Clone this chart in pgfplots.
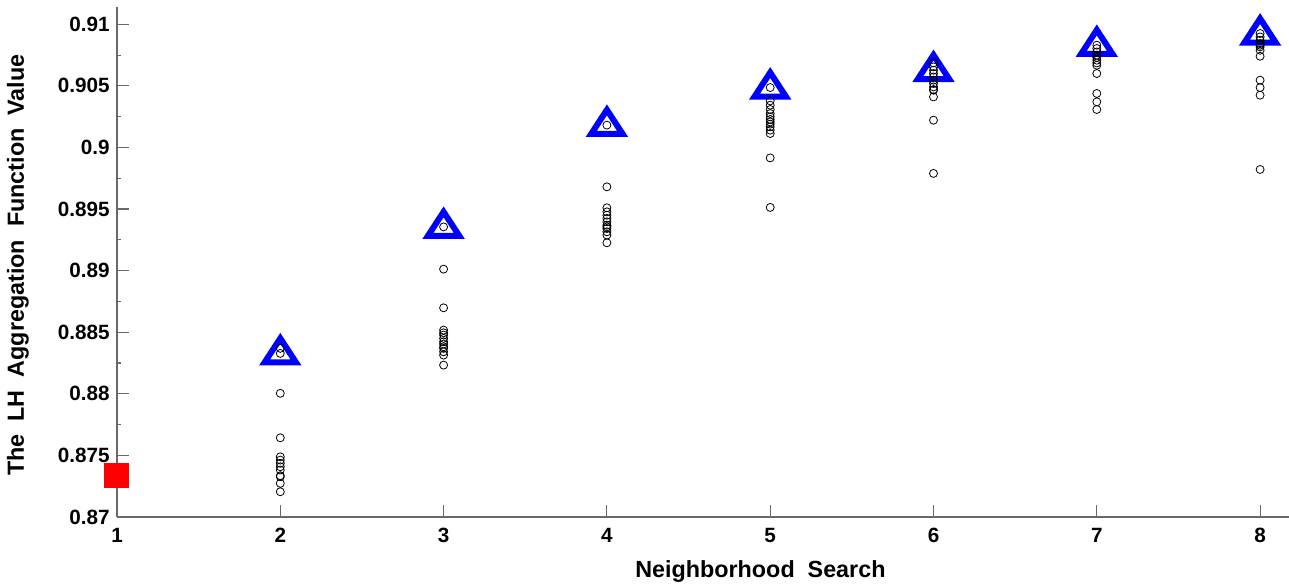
\documentclass[border=0pt]{standalone}
\usepackage{fontspec}
\setmainfont{Liberation Sans}
\usepackage{pgfplots}
\usepackage{pgfplotstable}
\pgfplotsset{compat=1.18}
\definecolor{axgray}{RGB}{105,105,105}

\pgfplotstableread{
x y
2 0.88369
2 0.88328
2 0.88004
2 0.87643
2 0.87489
2 0.87462
2 0.87436
2 0.87408
2 0.87381
2 0.87335
2 0.87327
2 0.87273
2 0.87205
3 0.89355
3 0.89012
3 0.88698
3 0.88517
3 0.88495
3 0.88477
3 0.88450
3 0.88422
3 0.88404
3 0.88382
3 0.88369
3 0.88341
3 0.88314
3 0.88233
4 0.90181
4 0.89680
4 0.89510
4 0.89477
4 0.89450
4 0.89424
4 0.89396
4 0.89369
4 0.89355
4 0.89342
4 0.89315
4 0.89288
4 0.89226
5 0.90486
5 0.90378
5 0.90343
5 0.90308
5 0.90275
5 0.90248
5 0.90227
5 0.90207
5 0.90189
5 0.90167
5 0.90140
5 0.90113
5 0.89915
5 0.89513
6 0.90686
6 0.90654
6 0.90627
6 0.90600
6 0.90572
6 0.90546
6 0.90519
6 0.90491
6 0.90470
6 0.90464
6 0.90410
6 0.90221
6 0.89789
7 0.90830
7 0.90803
7 0.90775
7 0.90748
7 0.90730
7 0.90708
7 0.90686
7 0.90667
7 0.90600
7 0.90438
7 0.90370
7 0.90308
8 0.90925
8 0.90897
8 0.90870
8 0.90843
8 0.90830
8 0.90816
8 0.90789
8 0.90740
8 0.90546
8 0.90486
8 0.90424
8 0.89821
}\circles

\pgfplotstableread{
x y
2 0.88320
3 0.89347
4 0.90175
5 0.90478
6 0.90620
7 0.90824
8 0.90916
}\best

\pgfplotstableread{
x y
1 0.87333
}\start

\begin{document}
\begin{tikzpicture}
\begin{axis}[
  scale only axis,
  width=879pt, height=382.5pt,
  xmin=1, xmax=8.177, ymin=0.87, ymax=0.9114,
  axis x line*=bottom, axis y line*=left,
  xtick={1,2,3,4,5,6,7,8},
  ytick={0.87,0.875,0.88,0.885,0.89,0.895,0.9,0.905,0.91},
  yticklabels={0.87,0.875,0.88,0.885,0.89,0.895,0.9,0.905,0.91},
  minor y tick num=1,
  tick align=inside,
  major tick length=9pt, minor tick length=3pt,
  axis line style={axgray, line width=1pt},
  every tick/.style={axgray, line width=0.8pt},
  tick label style={font=\fontsize{15.5}{18}\bfseries\selectfont, black},
  xticklabel style={yshift=-5pt},
  yticklabel style={xshift=-2pt},
  /pgf/number format/assume math mode=true,
  label style={font=\fontsize{17.5}{20}\bfseries\selectfont},
  xlabel={Neighborhood\ \ Search},
  ylabel={The\ \ LH\ \ Aggregation\ \ Function\ \ Value},
  xlabel style={at={(axis description cs:0.549,-0.106)}, anchor=center},
  ylabel style={at={(axis description cs:-0.0845,0.494)}, anchor=center, rotate=0},
  clip=false,
]
\addplot[only marks, mark=triangle, mark size=12pt,
  mark options={xscale=1.13, line width=4.5pt, draw=blue, fill=none}]
  table[x=x, y=y] {\best};
\addplot[only marks, mark=o, mark size=3pt,
  mark options={line width=0.6pt, draw=black, fill=none}]
  table[x=x, y=y] {\circles};
\addplot[only marks, mark=square*, mark size=9pt,
  mark options={draw=red, fill=red, line width=0pt}]
  table[x=x, y=y] {\start};
\coordinate (bl) at (rel axis cs:0,0);
\coordinate (tr) at (rel axis cs:1,1);
\end{axis}
\pgfresetboundingbox
\path[use as bounding box] ([shift={(-87.75pt,-51pt)}]bl) rectangle ([shift={(0pt,5.25pt)}]tr);
\end{tikzpicture}
\end{document}
